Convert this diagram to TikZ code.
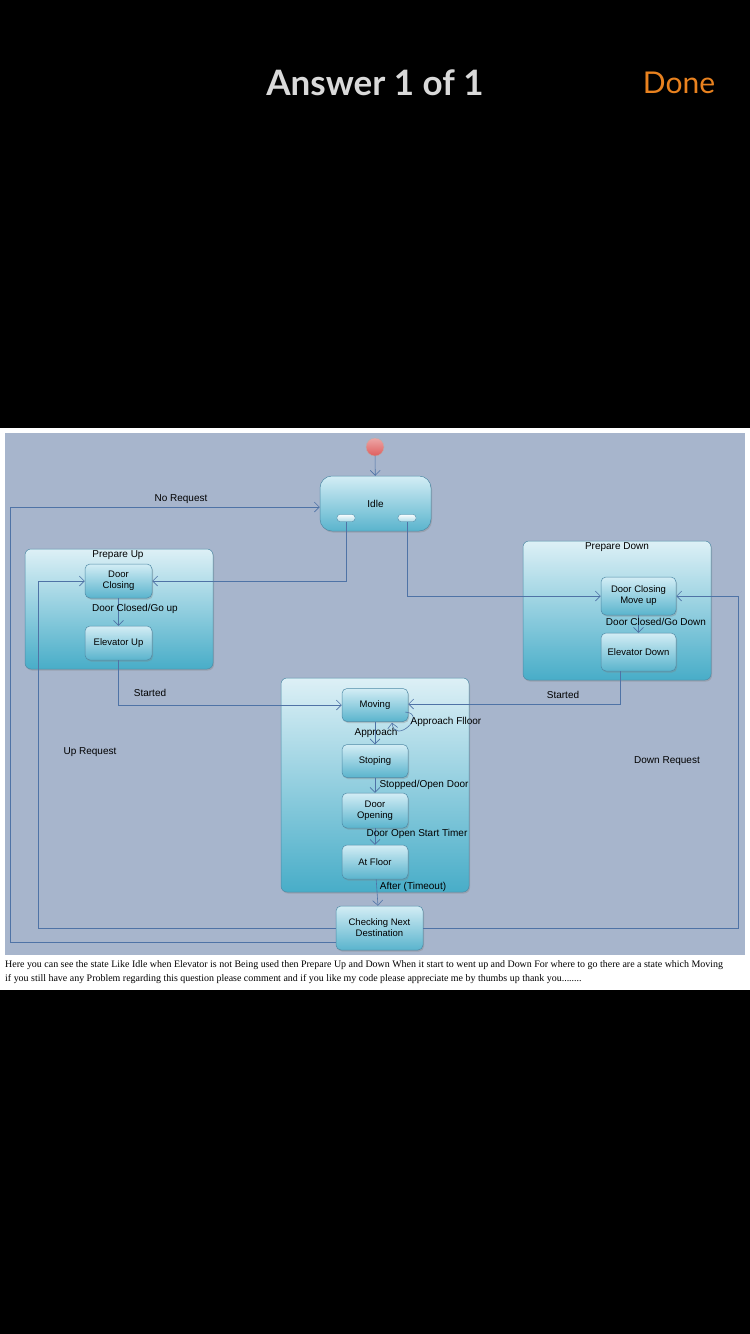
\documentclass[tikz,border=0pt]{standalone}
\usepackage{fontspec}
\setmainfont{Liberation Sans}
\newfontfamily\capfont{Liberation Serif}
\newfontfamily\hdrfont{Lato}
\usetikzlibrary{arrows.meta,shadows,calc}
\definecolor{bgdiag}{HTML}{A7B5CC}
\definecolor{linec}{HTML}{4F73A6}
\definecolor{bordc}{HTML}{4F8AA6}
\definecolor{toplt}{HTML}{DDF0F6}
\definecolor{botdk}{HTML}{48ADC8}
\definecolor{stop}{HTML}{D3EDF5}
\definecolor{sbot}{HTML}{5AB4CD}
\definecolor{initc}{HTML}{DE5E5E}
\definecolor{hdrgray}{HTML}{D9D9D9}
\definecolor{doneor}{HTML}{E9821F}
\tikzset{
  arr/.style={draw=linec, line width=0.6pt, -{Straight Barb[length=5pt,width=10pt]}},
  ln/.style={draw=linec, line width=0.6pt},
  comp/.style={draw=bordc, line width=0.5pt, rounded corners=6pt, top color=toplt, bottom color=botdk,
     drop shadow={shadow xshift=1pt, shadow yshift=-1.5pt, opacity=0.35}},
  stbox/.style={draw=bordc, line width=0.5pt, rounded corners=5pt, top color=stop, bottom color=sbot,
     minimum width=67pt, minimum height=34pt, align=center, inner sep=1pt,
     font=\fontsize{9.5}{11}\selectfont,
     drop shadow={shadow xshift=1pt, shadow yshift=-1.5pt, opacity=0.35}},
  lbl/.style={font=\fontsize{10}{12}\selectfont, text=black, inner sep=0pt},
  pill/.style={draw=bordc, line width=0.4pt, rounded corners=3pt, top color=white!85!stop, bottom color=stop!70!sbot,
     minimum width=18pt, minimum height=7pt, inner sep=0pt}
}
\begin{document}
\begin{tikzpicture}[x=1pt,y=-1pt]
\useasboundingbox (0,0) rectangle (750,1334);
\fill[black] (0,0) rectangle (750,1334);
% header
\node[font=\hdrfont\bfseries\fontsize{35}{40}\selectfont, text=hdrgray] (hdr) at (375,83) {Answer 1 of 1};
\node[font=\hdrfont\fontsize{30}{36}\selectfont, text=doneor] (done) at (679,83) {Done};
% white frame and diagram background
\fill[white] (0,428) rectangle (750,990);
\fill[bgdiag] (5,433) rectangle (745,955);

% initial and Idle
\node[circle, minimum size=18pt, inner sep=0pt, draw=gray!60, top color=initc!55!white, bottom color=initc] (init) at (375,447) {};
\node[stbox, rounded corners=12pt, minimum width=111pt, minimum height=55pt, font=\fontsize{10}{12}\selectfont] (idle) at (375.5,503.5) {Idle};
\node[pill] (pillL) at (346,518) {};
\node[pill] (pillR) at (407,518) {};
\draw[arr] (init) -- (idle);

% Prepare Up
\node[comp, minimum width=188pt, minimum height=120pt] (pu) at (119,609) {};
\node[lbl] (putitle) at (118,555) {Prepare Up};
\node[stbox] (dc1) at (118.5,581) {Door\\Closing};
\node[stbox] (eu) at (118.5,643) {Elevator Up};
\draw[arr] (dc1) -- (eu);
\node[lbl] (l1) at (135,609) {Door Closed/Go up};

% Prepare Down
\node[comp, minimum width=188pt, minimum height=139pt] (pd) at (617,610.5) {};
\node[lbl] (pdtitle) at (617,547) {Prepare Down};
\node[stbox, minimum width=75pt, minimum height=38pt] (dcm) at (638.5,596) {Door Closing\\Move up};
\node[stbox, minimum width=75pt, minimum height=38pt] (ed) at (638.5,652) {Elevator Down};
\draw[arr] (dcm) -- (ed);
\node[lbl] (l2) at (656,622) {Door Closed/Go Down};

% Main composite
\node[comp, minimum width=188pt, minimum height=214pt] (mc) at (375,785) {};
\node[stbox, minimum width=66pt, minimum height=33pt] (mov) at (375,705) {Moving};
\node[stbox, minimum width=66pt, minimum height=33pt] (stp) at (375,761) {Stoping};
\node[stbox, minimum width=66pt, minimum height=35pt] (dop) at (375,810.5) {Door\\Opening};
\node[stbox, minimum width=66pt, minimum height=34pt] (atf) at (375,862) {At Floor};
\node[stbox, minimum width=87pt, minimum height=44pt] (chk) at (379.5,928) {Checking Next\\Destination};
\draw[arr] (mov) -- (stp);
\draw[arr] (stp) -- (dop);
\draw[arr] (dop) -- (atf);
\draw[arr] (atf) -- (chk);
\node[lbl] (la) at (376,733) {Approach};
\node[lbl] (lb) at (424,785) {Stopped/Open Door};
\node[lbl] (lc) at (417,834) {Door Open Start Timer};
\node[lbl] (ld) at (413,887) {After (Timeout)};
% self loop
\draw[arr] ($(mov.east)+(-3,7)$) .. controls (428,714) and (395,745) .. ($(mov.south)+(17,1)$);
\node[lbl] (le) at (446,722) {Approach Flloor};

% Idle exits
\draw[arr] (pillL.south) |- (dc1.east);
\draw[arr] (pillR.south) |- (dcm.west);

% Started
\draw[arr] (eu.south) |- (mov.west);
\node[lbl] (ls1) at (150,693) {Started};
\coordinate (sdA) at (620,704);
\draw[arr] (ed.south -| sdA) -- (sdA) -- (mov.east |- sdA);
\node[lbl] (ls2) at (563,695) {Started};

% No Request
\coordinate (nrA) at (10,942);
\coordinate (nrB) at (10,507);
\draw[arr] (chk.west |- nrA) -- (nrA) -- (nrB) -- (idle.west |- nrB);
\node[lbl] (lnr) at (181,499) {No Request};

% Up Request
\coordinate (urA) at (38,928);
\draw[arr] (chk.west) -- (urA) |- (dc1.west);
\node[lbl] (lur) at (90,752) {Up Request};

% Down Request
\coordinate (drA) at (738,928);
\draw[arr] (chk.east) -- (drA) |- (dcm.east);
\node[lbl] (ldr) at (667,761) {Down Request};

% caption
\node[anchor=west, inner sep=0pt, font=\capfont\fontsize{9.95}{11}\selectfont] (cap1) at (5,965) {Here you can see the state Like Idle when Elevator is not Being used then Prepare Up and Down When it start to went up and Down For where to go there are a state which Moving};
\node[anchor=west, inner sep=0pt, font=\capfont\fontsize{9.95}{11}\selectfont] (cap2) at (5,979) {if you still have any Problem regarding this question please comment and if you like my code please appreciate me by thumbs up thank you........};
\end{tikzpicture}
\end{document}
